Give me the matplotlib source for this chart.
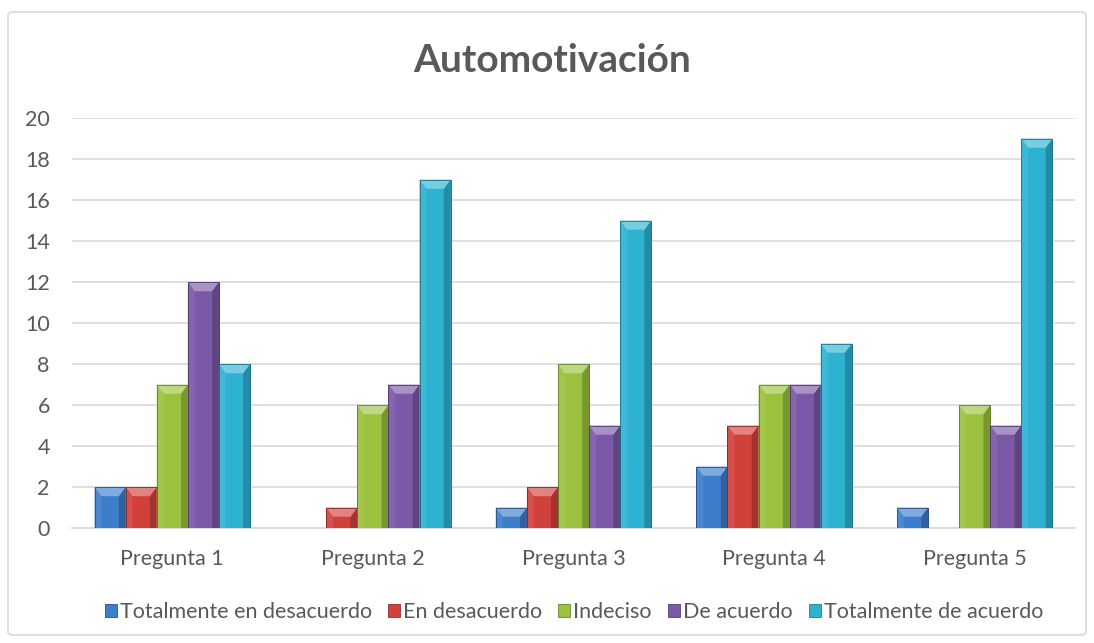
import matplotlib
matplotlib.use("Agg")
import matplotlib.pyplot as plt
from matplotlib.patches import Polygon, Rectangle, FancyBboxPatch
from matplotlib.colors import to_rgb
import numpy as np

categories = ["Pregunta 1", "Pregunta 2", "Pregunta 3", "Pregunta 4", "Pregunta 5"]
series_names = ["Totalmente en desacuerdo", "En desacuerdo", "Indeciso", "De acuerdo", "Totalmente de acuerdo"]
totalmente_desacuerdo = [2, 0, 1, 3, 1]
en_desacuerdo = [2, 1, 2, 5, 0]
indeciso = [7, 6, 8, 7, 6]
de_acuerdo = [12, 7, 5, 7, 5]
totalmente_acuerdo = [8, 17, 15, 9, 19]
series_values = [totalmente_desacuerdo, en_desacuerdo, indeciso, de_acuerdo, totalmente_acuerdo]
colors = ["#3C7DCC", "#D2403B", "#9BC23F", "#7B58A8", "#2DB2D2"]
y_ticks = list(range(0, 21, 2))

plt.rcParams['font.family'] = ['Lato', 'DejaVu Sans']
fig = plt.figure(figsize=(10.94, 6.43), dpi=100)
fig.patch.set_facecolor("white")
border = FancyBboxPatch((8 / 1094, 8 / 643), 1078 / 1094, 623 / 643, boxstyle="round,pad=0,rounding_size=0.005",
                        transform=fig.transFigure, fill=False, edgecolor="#D9D9D9", linewidth=1.2)
fig.add_artist(border)

ax = fig.add_axes([72 / 1094, 1 - 528 / 643, (1075 - 72) / 1094, 410 / 643])
n = len(series_names)
w = 0.155
x = np.arange(len(categories))

def mix(c, t, a):
    c = np.array(to_rgb(c)); t = np.array(to_rgb(t))
    return tuple(c * (1 - a) + t * a)

bev_y = 0.45
for i, (vals, col) in enumerate(zip(series_values, colors)):
    offs = (i - (n - 1) / 2) * w
    bars = ax.bar(x + offs, vals, width=w, color=col, edgecolor=mix(col, "black", 0.3),
                  linewidth=0.6, label=series_names[i], zorder=3)
    for b, v in zip(bars, vals):
        if v <= 0:
            continue
        x0 = b.get_x(); x1 = x0 + b.get_width(); h = b.get_height()
        bx = b.get_width() * 0.22
        by = min(bev_y, h * 0.5)
        ax.add_patch(Polygon([(x0, 0), (x0, h), (x0 + bx, h - by), (x0 + bx, 0)],
                             closed=True, facecolor=mix(col, "white", 0.08), edgecolor="none", zorder=4))
        ax.add_patch(Polygon([(x1, 0), (x1, h), (x1 - bx, h - by), (x1 - bx, 0)],
                             closed=True, facecolor=mix(col, "black", 0.22), edgecolor="none", zorder=4))
        ax.add_patch(Polygon([(x0, h), (x1, h), (x1 - bx, h - by), (x0 + bx, h - by)],
                             closed=True, facecolor=mix(col, "white", 0.35), edgecolor="none", zorder=4))
        ax.add_patch(Rectangle((x0, 0), x1 - x0, h, fill=False,
                               edgecolor=mix(col, "black", 0.35), linewidth=0.6, zorder=5))

ax.set_xlim(-0.5, len(categories) - 0.5)
ax.set_ylim(0, 20)
ax.set_yticks(y_ticks)
ax.set_xticks(x)
ax.set_xticklabels(categories)
ax.yaxis.grid(True, color="#D9D9D9", linewidth=1.2, zorder=0)
ax.set_axisbelow(True)
for s in ["left", "right", "top"]:
    ax.spines[s].set_visible(False)
ax.spines["bottom"].set_color("#D9D9D9")
ax.spines["bottom"].set_linewidth(1.2)
ax.tick_params(axis="both", length=0, labelsize=15.5, colors="#595959")
ax.tick_params(axis="x", pad=15)
ax.tick_params(axis="y", pad=16)

fig.text(0.5 + 5 / 1094, 1 - 60 / 643, "Automotivación", ha="center", va="center", fontsize=28,
         fontweight="bold", color="#595959")

handles, labels = ax.get_legend_handles_labels()
leg = fig.legend(handles, labels, loc="center", bbox_to_anchor=(574 / 1094, 1 - 612 / 643), ncol=5,
                 frameon=False, fontsize=15.5, handlelength=0.55, handleheight=0.55,
                 handletextpad=0.15, columnspacing=0.75, labelcolor="#595959")

fig.savefig("out.png", dpi=100, facecolor="white")
